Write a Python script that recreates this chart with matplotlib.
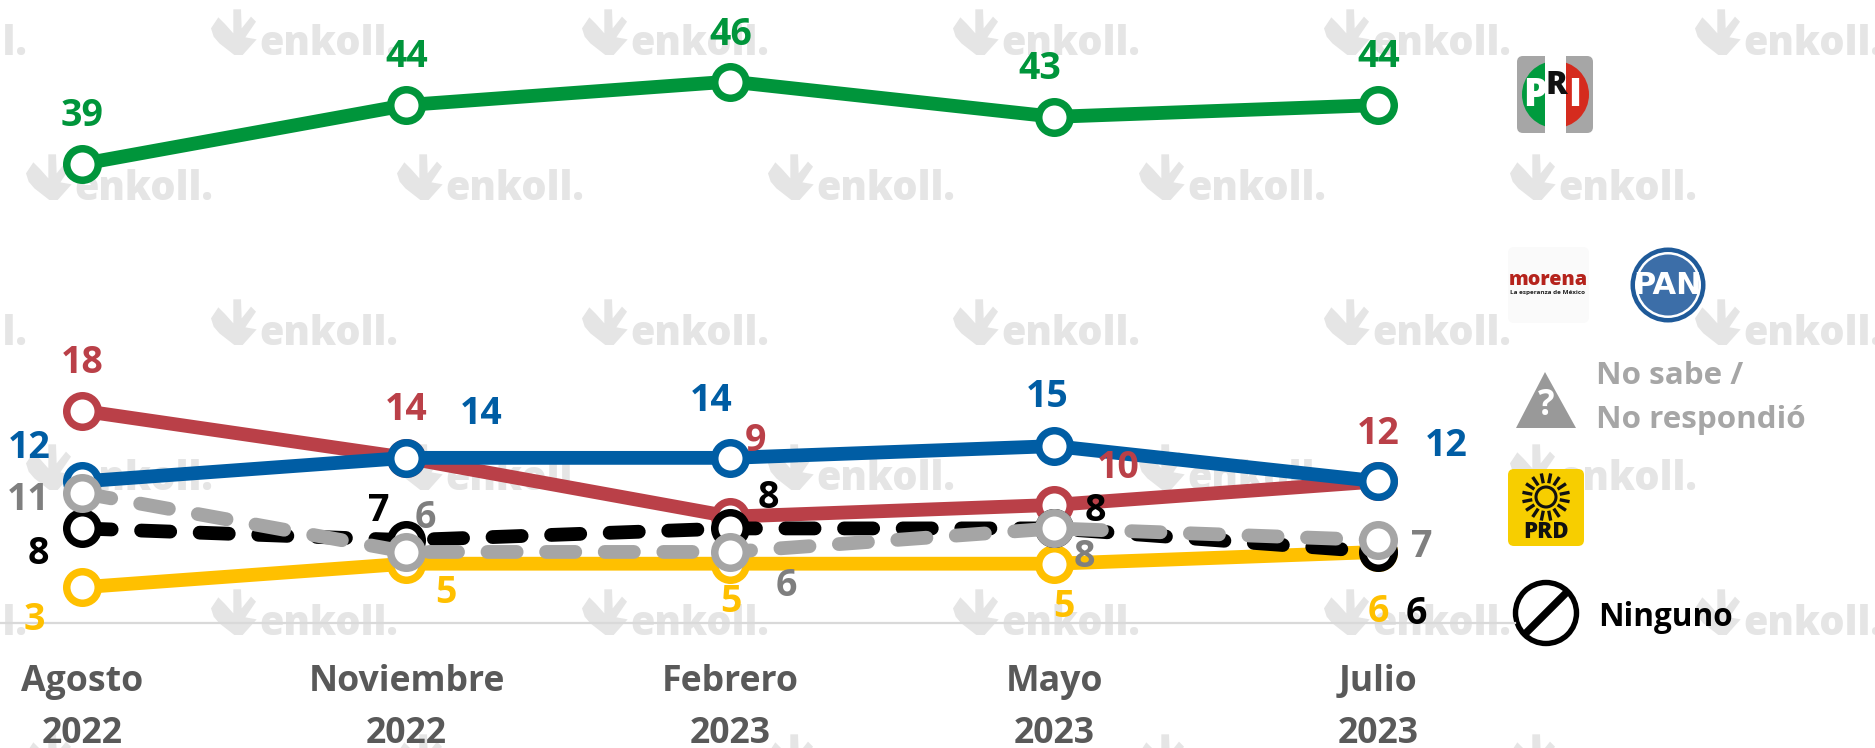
import numpy as np
import matplotlib
matplotlib.use("Agg")
import matplotlib.pyplot as plt
from matplotlib.patches import FancyBboxPatch, Circle, Polygon, Rectangle

W, H = 1875, 748
plt.rcParams['font.family'] = ['Open Sans', 'DejaVu Sans']
plt.rcParams['font.weight'] = 'bold'
plt.rcParams['lines.scale_dashes'] = False

# ---- data ----
periods = ['Agosto\n2022', 'Noviembre\n2022', 'Febrero\n2023', 'Mayo\n2023', 'Julio\n2023']
pri = [39, 44, 46, 43, 44]
morena = [18, 14, 9, 10, 12]
pan = [12, 14, 14, 15, 12]
prd = [3, 5, 5, 5, 6]
ninguno = [8, 7, 8, 8, 6]
no_sabe = [11, 6, 6, 8, 7]

# label offsets from each point, in pixels (dx right, dy up)
off_pri = [(0, 52), (0, 53), (0, 51), (-15, 52), (0, 53)]
off_morena = [(0, 52), (0, 52), (25, 80), (64, 41), (0, 52)]
off_pan = [(-53, 38), (75, 48), (-19, 61), (-7, 54), (68, 40)]
off_prd = [(-48, -28), (39, -25), (0, -34), (9, -39), (0, -56)]
off_ninguno = [(-44, -21), (-28, 34), (38, 35), (41, 22), (38, -58)]
off_no_sabe = [(-54, -2), (19, 38), (56, -30), (30, -24), (43, -2)]

PX = 0.72  # points per pixel at dpi 100
FS_TICK = 25.7
FS_LABEL = 27

fig = plt.figure(figsize=(W / 100, H / 100), dpi=100, facecolor='white')

# ---- pixel layer: watermark and legend logos ----
pix = fig.add_axes([0, 0, 1, 1], zorder=0)
pix.set_xlim(0, W)
pix.set_ylim(H, 0)
pix.axis('off')

WM = '#E5E5E5'
wm_shape = np.array([(0, 85), (22, 52), (42, 72), (67, 100), (67, 28), (90, 28), (92, 85),
                     (120, 50), (135, 65), (103, 112), (137, 118), (95, 165), (70, 165),
                     (25, 130), (8, 110)], float) / 3
wm_shape[:, 1] -= 55
for r, base in enumerate([55, 200, 345, 490, 635, 780]):
    x0 = 211 if r % 2 == 0 else 26
    for k in range(-1, 6):
        x = x0 + k * 371
        pix.add_patch(Polygon(wm_shape + [x, base], closed=True, fc=WM, ec='none', zorder=1))
        pix.text(x + 48, base, 'enkoll.', color=WM, fontsize=28.5, fontweight='heavy',
                 ha='left', va='baseline', zorder=1, clip_on=True)


def rrect(x0, y0, x1, y1, fc, rad=6, z=2):
    p = FancyBboxPatch((x0 + rad, y0 + rad), x1 - x0 - 2 * rad, y1 - y0 - 2 * rad,
                       boxstyle=f'round,pad={rad},rounding_size={rad}', fc=fc, ec='none', zorder=z)
    pix.add_patch(p)
    return p


# PRI
rrect(1517, 56, 1593, 133, '#A6A6A6')
pc = Circle((1555.5, 94.5), 33.5, fc='none', ec='none')
pix.add_patch(pc)
gr = Rectangle((1520, 60), 35.5, 70, fc='#009B3E', zorder=3)
rd = Rectangle((1555.5, 60), 35.5, 70, fc='#D52B1E', zorder=3)
pix.add_patch(gr)
pix.add_patch(rd)
gr.set_clip_path(pc)
rd.set_clip_path(pc)
pix.add_patch(Rectangle((1545, 56), 21, 77, fc='white', zorder=4))
pix.text(1535, 95, 'P', color='white', fontsize=27, fontweight='heavy', ha='center', va='center', zorder=5)
pix.text(1556, 86, 'R', color='#111111', fontsize=23, fontweight='heavy', ha='center', va='center', zorder=5)
pix.text(1575, 95, 'I', color='white', fontsize=27, fontweight='heavy', ha='center', va='center', zorder=5)

# Morena
rrect(1508, 247, 1589, 323, '#FAFAFA')
pix.text(1548, 280, 'morena', color='#B5231C', fontsize=14.2, fontweight='heavy', ha='center', va='center', zorder=3)
pix.text(1548, 292, 'La esperanza de México', color='#222222', fontsize=4.6, ha='center', va='center', zorder=3)

# PAN
pix.add_patch(Circle((1668, 285), 37.5, fc='#1F5A99', ec='none', zorder=2))
pix.add_patch(Circle((1668, 285), 33, fc='white', ec='none', zorder=3))
pix.add_patch(Circle((1668, 285), 30.5, fc='#3C6EA8', ec='none', zorder=4))
pix.text(1668, 285, 'PAN', color='white', fontsize=22, family='Liberation Sans Narrow', fontweight='bold',
         ha='center', va='center', zorder=5)

# No sabe
pix.add_patch(Polygon([(1545, 372), (1516, 428), (1576, 428)], closed=True, fc='#999999', ec='none', zorder=2))
pix.text(1546, 406, '?', color='white', fontsize=25, ha='center', va='center', zorder=3)
pix.text(1596, 376, 'No sabe /', color='#A6A6A6', fontsize=22.6, ha='left', va='center', zorder=3)
pix.text(1596, 420, 'No respondió', color='#A6A6A6', fontsize=22.6, ha='left', va='center', zorder=3)

# PRD
rrect(1508, 469, 1584, 546, '#F7CE00')
cx, cy = 1546, 497
for a in np.arange(0, 360, 360 / 16) + 11.25:
    t = np.radians(a)
    pix.plot([cx + 14 * np.cos(t), cx + 24 * np.cos(t)], [cy + 14 * np.sin(t), cy + 24 * np.sin(t)],
             color='#111111', lw=2.4, solid_capstyle='butt', zorder=3)
pix.add_patch(Circle((cx, cy), 10, fc='none', ec='#111111', lw=2.2, zorder=3))
pix.text(1546, 532, 'PRD', color='#111111', fontsize=16, fontweight='heavy', ha='center', va='center', zorder=3)

# Ninguno
pix.add_patch(Circle((1546, 613), 30.5, fc='white', ec='black', lw=3.9, zorder=3))
pix.plot([1524, 1568], [635, 591], color='black', lw=5.4, solid_capstyle='butt', zorder=4)
pix.text(1598, 617, 'Ninguno', color='black', fontsize=22.7, ha='left', va='center', zorder=5)

# ---- chart ----
X0, XSTEP, Y0, YSTEP, XEND = 82.5, 324, 622.5, 11.76, 1515
ax = fig.add_axes([0, (H - Y0) / H, XEND / W, Y0 / H], zorder=1)
ax.patch.set_visible(False)
ax.set_xlim(-X0 / XSTEP, (XEND - X0) / XSTEP)
ax.set_ylim(0, Y0 / YSTEP)
for s in ['top', 'left', 'right']:
    ax.spines[s].set_visible(False)
ax.spines['bottom'].set_color('#D9D9D9')
ax.spines['bottom'].set_linewidth(1.6)
ax.set_yticks([])
x = np.arange(len(periods))
ax.set_xticks(x)
ax.set_xticklabels(periods, fontsize=FS_TICK, color='#595959', fontweight='bold', linespacing=1.6)
ax.tick_params(axis='x', length=0, pad=29.6)

DASH = (0, (21, 21.2))
series = [
    (pri, off_pri, '#00953B', '#00953B', '-'),
    (morena, off_morena, '#BA4048', '#BA4048', '-'),
    (pan, off_pan, '#005DA4', '#005DA4', '-'),
    (prd, off_prd, '#FFC000', '#FFC000', '-'),
    (ninguno, off_ninguno, '#000000', '#000000', DASH),
    (no_sabe, off_no_sabe, '#A5A5A5', '#7F7F7F', DASH),
]
for i, (vals, offs, col, tcol, ls) in enumerate(series):
    ax.plot(x, vals, color=col, lw=13.8 * PX, ls=ls, zorder=3 + i,
            dash_capstyle='round', solid_capstyle='butt', clip_on=False)
    ax.plot(x, vals, ls='none', marker='o', ms=31.5 * PX, mew=7.5 * PX, mfc='white', mec=col,
            zorder=3 + i, clip_on=False)
for vals, offs, col, tcol, ls in series:
    for xi, v, (dx, dy) in zip(x, vals, offs):
        ax.annotate(str(v), (xi, v), xytext=(dx, dy), textcoords='offset pixels', color=tcol,
                    fontsize=FS_LABEL, fontweight='bold', ha='center', va='center_baseline', zorder=20,
                    annotation_clip=False)

fig.savefig('out.png', dpi=100, facecolor='white')
